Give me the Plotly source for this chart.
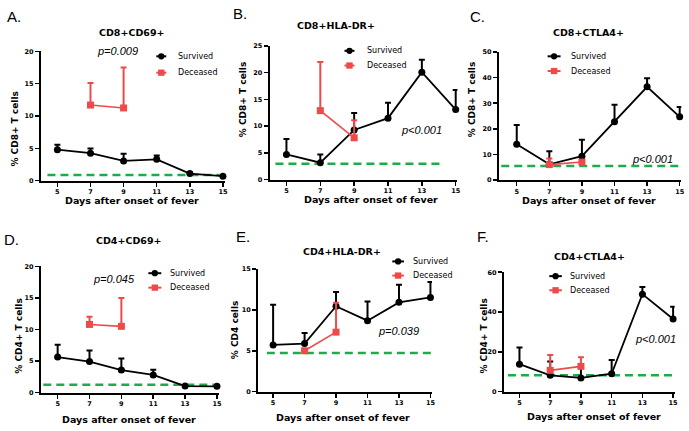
import plotly.graph_objects as go

# ---------------- data ----------------
days = [5, 7, 9, 11, 13, 15]
days_deceased = [7, 9]

# A. CD8+CD69+
a_survived = [4.8, 4.25, 3.05, 3.3, 1.1, 0.7]
a_survived_err = [0.77, 0.71, 1.11, 0.61, 0.2, 0.1]
a_deceased = [11.7, 11.25]
a_deceased_err = [3.4, 6.25]
a_baseline = 0.86
a_baseline_days = [4.4, 14.8]

# B. CD8+HLA-DR+
b_survived = [4.71, 3.18, 9.3, 11.5, 20.1, 13.1]
b_survived_err = [2.87, 1.53, 3.18, 2.87, 2.3, 3.65]
b_deceased = [12.9, 7.83]
b_deceased_err = [9.1, 3.27]
b_baseline = 3.0
b_baseline_days = [4.35, 14.15]

# C. CD8+CTLA4+
c_survived = [14.0, 6.1, 9.3, 22.8, 36.4, 24.7]
c_survived_err = [7.5, 5.1, 6.4, 6.6, 3.4, 3.8]
c_deceased = [6.0, 7.0]
c_deceased_err = [2.4, 0.5]
c_baseline = 5.5
c_baseline_days = [4.05, 14.95]

# D. CD4+CD69+
d_survived = [5.64, 4.92, 3.57, 2.8, 1.04, 1.0]
d_survived_err = [1.96, 1.76, 1.82, 0.83, 0.16, 0.2]
d_deceased = [10.8, 10.5]
d_deceased_err = [1.2, 4.5]
d_baseline = 1.24
d_baseline_days = [4.1, 14.85]

# E. CD4+HLA-DR+
e_survived = [5.72, 5.88, 10.44, 8.68, 10.92, 11.52]
e_survived_err = [4.92, 1.28, 1.76, 2.36, 2.16, 1.88]
e_deceased = [5.0, 7.28]
e_deceased_err = [0.2, 3.6]
e_baseline = 4.72
e_baseline_days = [4.6, 15.05]

# F. CD4+CTLA4+
f_survived = [13.8, 8.2, 6.9, 9.0, 49.0, 36.5]
f_survived_err = [8.4, 6.9, 5.3, 6.9, 3.6, 6.1]
f_deceased = [10.7, 12.7]
f_deceased_err = [7.7, 4.6]
f_baseline = 8.2
f_baseline_days = [4.25, 15.1]

panel_letters = ["A.", "B.", "C.", "D.", "E.", "F."]
panel_titles = ["CD8+CD69+", "CD8+HLA-DR+", "CD8+CTLA4+", "CD4+CD69+", "CD4+HLA-DR+", "CD4+CTLA4+"]
y_titles = ["% CD8+ T cells", "% CD8+ T cells", "% CD8+ T cells", "% CD4+ T cells", "% CD4 cells", "% CD4+ T cells"]
p_values = ["p=0.009", "p<0.001", "p<0.001", "p=0.045", "p=0.039", "p<0.001"]
y_max = [20, 25, 50, 20, 15, 60]
y_step = [5, 5, 10, 5, 5, 20]
x_title = "Days after onset of fever"
series_names = ["Survived", "Deceased"]

# ---------------- layout geometry (pixels) ----------------
W, H = 689, 431
def PX(x):
    return x / W
def PY(y):
    return 1 - y / H

panels = [
    dict(xd=(41, 226.4), xr=[4, 15.15], yd=(48.3, 180),
         letter=(5, 13), title=(132, 29), p=(118.3, 47.7), yt=(15, 127), xt=(133, 200),
         leg=(157, 167, 177, 53.3, 70)),
    dict(xd=(270.7, 459.4), xr=[4, 15.1], yd=(42.7, 179),
         letter=(232, 10), title=(337.7, 21.7), p=(423.3, 128.3), yt=(244, 97), xt=(373, 199),
         leg=(346, 356, 366.7, 47.7, 62.7)),
    dict(xd=(501, 684.3), xr=[3.9, 15.1], yd=(49, 179.3),
         letter=(470, 13), title=(591, 29.3), p=(655, 158.3), yt=(474, 97), xt=(591.7, 200),
         leg=(550, 563, 571, 53.3, 68.3)),
    dict(xd=(41.1, 219.5), xr=[3.95, 15.1], yd=(267.3, 396),
         letter=(2, 240), title=(129.3, 241), p=(115, 280), yt=(19, 338), xt=(130, 423),
         leg=(149, 162, 168.3, 274.3, 289)),
    dict(xd=(259.3, 433.9), xr=[4.05, 15.1], yd=(270, 395),
         letter=(235, 237), title=(343.3, 252.3), p=(400, 333.3), yt=(235.7, 331.7), xt=(345, 421.7),
         leg=(394, 405.7, 412.7, 262.3, 276.7)),
    dict(xd=(506, 677.6), xr=[3.98, 15.1], yd=(273.3, 395),
         letter=(477, 237), title=(591.7, 257.3), p=(658.3, 341.7), yt=(485.7, 338.3), xt=(596.7, 420),
         leg=(551.7, 564.3, 570, 277.3, 291.7)),
]

data = [
    (a_survived, a_survived_err, a_deceased, a_deceased_err, a_baseline, a_baseline_days),
    (b_survived, b_survived_err, b_deceased, b_deceased_err, b_baseline, b_baseline_days),
    (c_survived, c_survived_err, c_deceased, c_deceased_err, c_baseline, c_baseline_days),
    (d_survived, d_survived_err, d_deceased, d_deceased_err, d_baseline, d_baseline_days),
    (e_survived, e_survived_err, e_deceased, e_deceased_err, e_baseline, e_baseline_days),
    (f_survived, f_survived_err, f_deceased, f_deceased_err, f_baseline, f_baseline_days),
]

BLACK = "#000000"
RED = "#EF4A4A"
GREEN = "#1FAA4C"
FONT = "Liberation Sans, Arial, sans-serif"
WIDE = "DejaVu Sans, Liberation Sans, sans-serif"

fig = go.Figure()
annotations = []
shapes = []
layout_axes = {}

for i, (pan, (sv, se, dv, de, base, bdays)) in enumerate(zip(panels, data)):
    n = i + 1
    xa = "x" if n == 1 else f"x{n}"
    ya = "y" if n == 1 else f"y{n}"
    xkey = "xaxis" if n == 1 else f"xaxis{n}"
    ykey = "yaxis" if n == 1 else f"yaxis{n}"

    # baseline (healthy control) dashed line
    fig.add_trace(go.Scatter(
        x=bdays, y=[base, base], mode="lines", xaxis=xa, yaxis=ya,
        line=dict(color=GREEN, width=2.5, dash="8px,5px"),
        showlegend=False, hoverinfo="skip", cliponaxis=False))
    # survived
    fig.add_trace(go.Scatter(
        x=days, y=sv, mode="lines+markers", name=series_names[0], xaxis=xa, yaxis=ya,
        line=dict(color=BLACK, width=1.8),
        marker=dict(symbol="circle", size=7, color=BLACK),
        error_y=dict(type="data", symmetric=False, array=se, arrayminus=[0] * len(se),
                     color=BLACK, thickness=2, width=3),
        showlegend=False, cliponaxis=False))
    # deceased
    fig.add_trace(go.Scatter(
        x=days_deceased, y=dv, mode="lines+markers", name=series_names[1], xaxis=xa, yaxis=ya,
        line=dict(color=RED, width=1.6),
        marker=dict(symbol="square", size=7, color=RED),
        error_y=dict(type="data", symmetric=False, array=de, arrayminus=[0] * len(de),
                     color=RED, thickness=2, width=3),
        showlegend=False, cliponaxis=False))

    tickfont = dict(family=WIDE, size=6.5, color=BLACK, weight="bold")
    layout_axes[xkey] = dict(
        domain=[PX(pan["xd"][0]), PX(pan["xd"][1])], range=pan["xr"], anchor=ya,
        showline=True, linecolor=BLACK, linewidth=2, ticks="outside", ticklen=4,
        tickwidth=1.5, tickcolor=BLACK, tickvals=days, tickfont=tickfont,
        showgrid=False, zeroline=False, fixedrange=True)
    layout_axes[ykey] = dict(
        domain=[PY(pan["yd"][1]), PY(pan["yd"][0])], range=[0, y_max[i]], anchor=xa,
        showline=True, linecolor=BLACK, linewidth=2, ticks="outside", ticklen=4,
        tickwidth=1.5, tickcolor=BLACK, tick0=0, dtick=y_step[i], tickfont=tickfont,
        showgrid=False, zeroline=False, fixedrange=True)

    # texts
    annotations.append(dict(text=panel_letters[i], x=PX(pan["letter"][0]), y=PY(pan["letter"][1]),
                            xref="paper", yref="paper", xanchor="left", yanchor="middle",
                            showarrow=False, font=dict(family=FONT, size=15, color=BLACK)))
    annotations.append(dict(text=panel_titles[i], x=PX(pan["title"][0]), y=PY(pan["title"][1]),
                            xref="paper", yref="paper", xanchor="center", yanchor="middle",
                            showarrow=False, font=dict(family=WIDE, size=9.5, color=BLACK, weight="bold")))
    annotations.append(dict(text=p_values[i], x=PX(pan["p"][0]), y=PY(pan["p"][1]),
                            xref="paper", yref="paper", xanchor="center", yanchor="middle",
                            showarrow=False, font=dict(family=FONT, size=11, color=BLACK, style="italic")))
    annotations.append(dict(text=y_titles[i], x=PX(pan["yt"][0]), y=PY(pan["yt"][1]),
                            xref="paper", yref="paper", xanchor="center", yanchor="middle",
                            textangle=-90, showarrow=False,
                            font=dict(family=WIDE, size=9, color=BLACK, weight="bold")))
    annotations.append(dict(text=x_title, x=PX(pan["xt"][0]), y=PY(pan["xt"][1]),
                            xref="paper", yref="paper", xanchor="center", yanchor="middle",
                            showarrow=False, font=dict(family=WIDE, size=9.5, color=BLACK, weight="bold")))

    # legend (drawn per panel)
    lx0, lx1, tx, ly1, ly2 = pan["leg"]
    for (ly, col, name, sym) in [(ly1, BLACK, series_names[0], "circle"), (ly2, RED, series_names[1], "square")]:
        shapes.append(dict(type="line", xref="paper", yref="paper",
                           x0=PX(lx0), x1=PX(lx1), y0=PY(ly), y1=PY(ly),
                           line=dict(color=col, width=2)))
        cx = (lx0 + lx1) / 2
        shapes.append(dict(type="circle" if sym == "circle" else "rect", xref="paper", yref="paper",
                           x0=PX(cx - 3.2), x1=PX(cx + 3.2), y0=PY(ly + 3.2), y1=PY(ly - 3.2),
                           fillcolor=col, line=dict(color=col, width=0)))
        annotations.append(dict(text=name, x=PX(tx), y=PY(ly), xref="paper", yref="paper",
                                xanchor="left", yanchor="middle", showarrow=False,
                                font=dict(family=WIDE, size=8, color=BLACK)))

fig.update_layout(
    width=W, height=H, margin=dict(l=0, r=0, t=0, b=0),
    paper_bgcolor="white", plot_bgcolor="white",
    showlegend=False, annotations=annotations, shapes=shapes,
    font=dict(family=FONT, color=BLACK),
    **layout_axes)

fig.write_html("out.html", config={"displayModeBar": False, "staticPlot": True},
               post_script="document.body.style.margin='0';document.body.style.overflow='hidden';")
